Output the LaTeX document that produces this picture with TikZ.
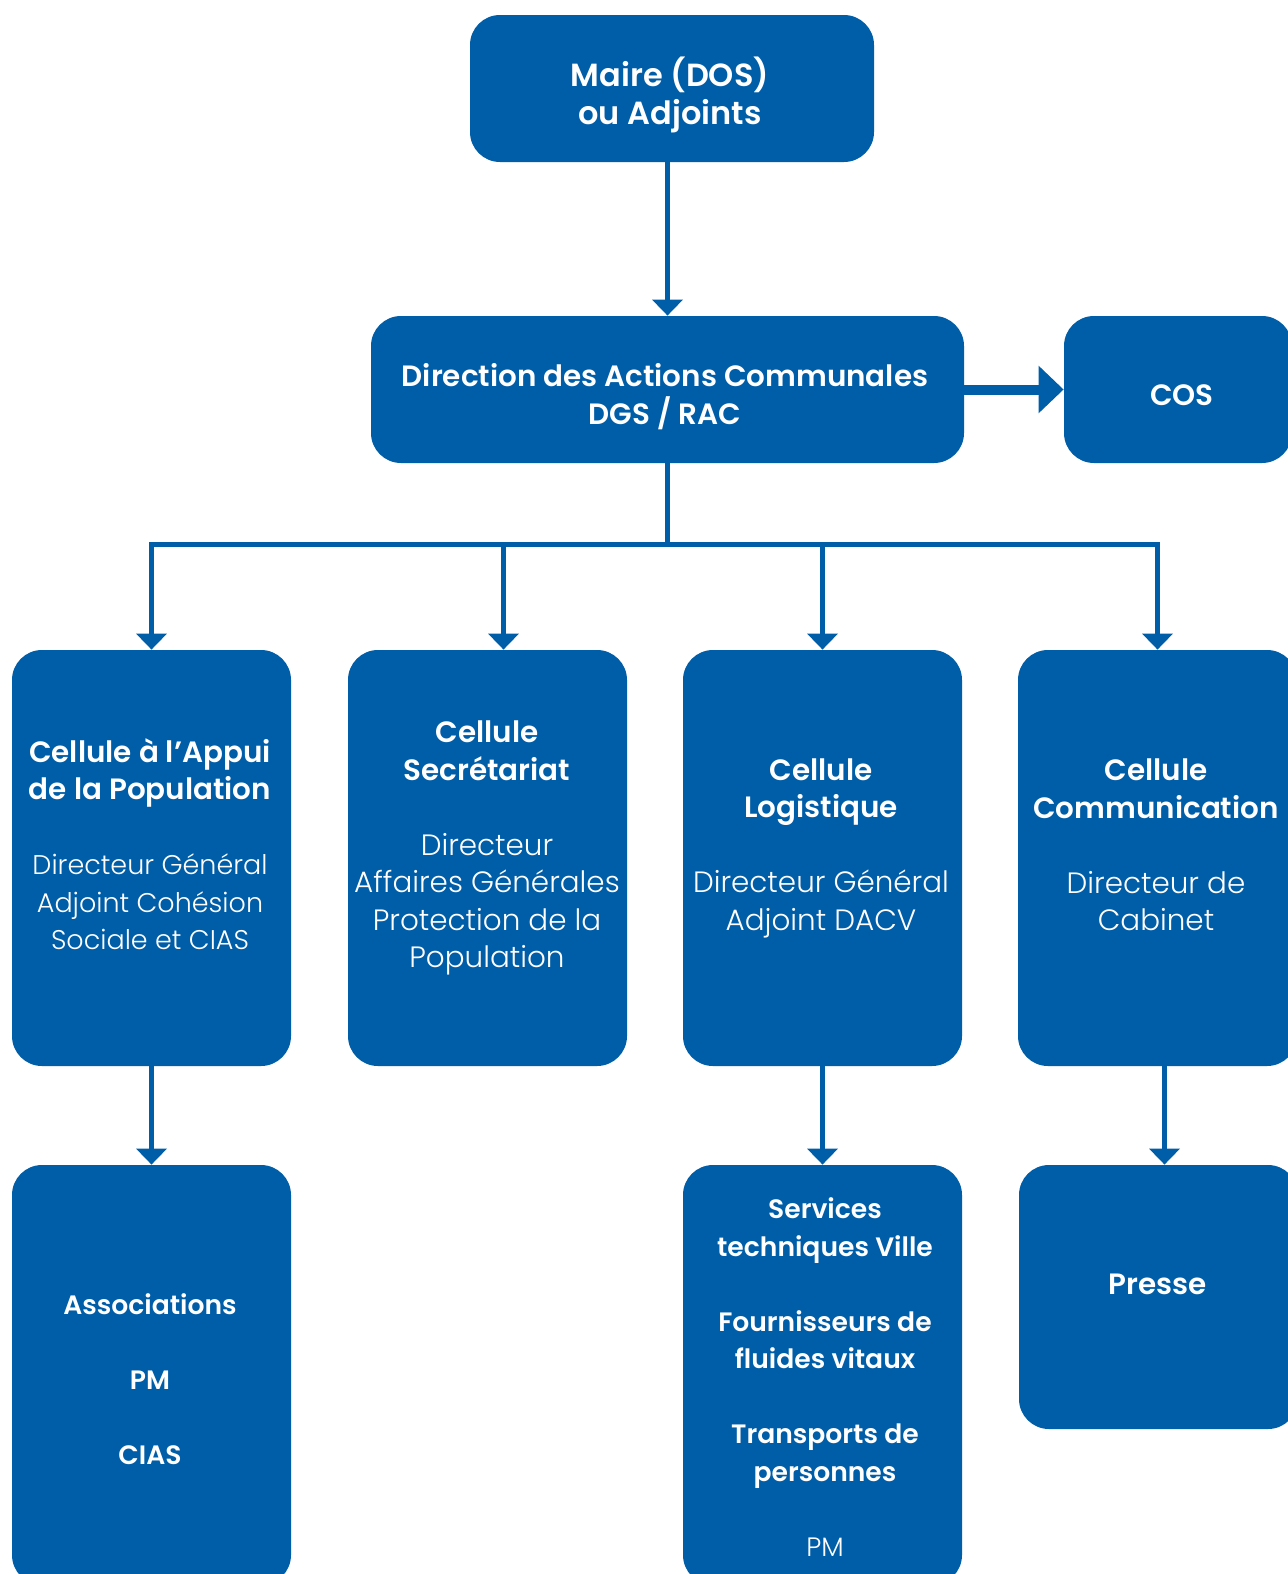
\documentclass[tikz,border=0pt]{standalone}
\usepackage{fontspec}
\setmainfont{Poppins}[UprightFont={* Light}, BoldFont={* SemiBold}]
\usetikzlibrary{arrows.meta, fit}

\definecolor{bleuville}{RGB}{0,94,168}

\tikzset{
    boite/.style={fill=bleuville, draw=none, rounded corners=15pt, inner sep=0pt},
    texte/.style={text=white, align=center, inner sep=0pt, font=\fontsize{14.7}{18.75}\selectfont},
    gras/.style={texte, font=\fontsize{14.7}{18.75}\selectfont\bfseries},
    petit/.style={texte, font=\fontsize{13.3}{18.75}\selectfont\bfseries},
    trait/.style={draw=bleuville, line width=2.5pt},
    fleche/.style={trait, -{Triangle[width=15pt, length=8pt]}},
    grossefleche/.style={draw=bleuville, line width=5pt, -{Triangle[width=23pt, length=12.5pt]}}
}

% corps plus petit pour la premiere cellule
\newcommand{\corpsappui}{\fontsize{13.5}{18.75}\selectfont}

\begin{document}
\begin{tikzpicture}[x=0.5pt, y=-0.5pt]

    \useasboundingbox (0, 0) rectangle (1288, 1574);

    % -- Niveau 1 : Maire --
    \node[boite, fit={(470, 15) (874, 162)}] (maire) {};
    \node[gras, font=\fontsize{16}{18.75}\selectfont\bfseries] (tmaire) at (670, 95) {Maire (DOS)\\ou Adjoints};

    % -- Niveau 2 : Direction et COS --
    \node[boite, fit={(371, 316) (964, 463)}] (direction) {};
    \node[gras] (tdirection) at (665, 396.5) {Direction des Actions Communales\\DGS / RAC};

    \node[boite, fit={(1064, 316) (1292, 463)}] (cos) {};
    \node[gras] (tcos) at (1182, 395) {COS};

    % -- Niveau 3 : les quatre cellules --
    \node[boite, fit={(12, 650) (291, 1066)}] (appui) {};
    \node[boite, fit={(348, 650) (627, 1066)}] (secretariat) {};
    \node[boite, fit={(683, 650) (962, 1066)}] (logistique) {};
    \node[boite, fit={(1018, 650) (1297, 1066)}] (communication) {};

    % titre en gras, puis le responsable
    \node[texte] (tappui) at (150, 844) {\textbf{Cellule à l’Appui}\\\textbf{de la Population}\\[18.75pt]
        \corpsappui Directeur Général\\\corpsappui Adjoint Cohésion\\\corpsappui Sociale et CIAS};
    \node[texte] (tsecretariat) at (487, 848) {\textbf{Cellule}\\\textbf{Secrétariat}\\[18.75pt]
        Directeur\\Affaires Générales\\Protection de la\\Population};
    \node[texte] (tlogistique) at (821, 848) {\textbf{Cellule}\\\textbf{Logistique}\\[18.75pt]
        Directeur Général\\Adjoint DACV};
    \node[texte] (tcommunication) at (1156, 845) {\textbf{Cellule}\\\textbf{Communication}\\[18.75pt]
        Directeur de\\Cabinet};

    % -- Niveau 4 : partenaires --
    \node[boite, fit={(12, 1165) (291, 1585)}] (partenaires) {};
    \node[boite, fit={(683, 1165) (962, 1585)}] (services) {};
    \node[boite, fit={(1019, 1165) (1298, 1429)}] (presse) {};

    \node[petit] (tpartenaires) at (150, 1379) {Associations\\[18.75pt]PM\\[18.75pt]CIAS};
    \node[petit] (tservices) at (825, 1377) {Services\\techniques Ville\\[18.75pt]
        Fournisseurs de\\fluides vitaux\\[18.75pt]Transports de\\personnes\\[18.75pt]\mdseries PM};
    \node[gras] (tpresse) at (1158, 1284) {Presse};

    % -- Liaisons --
    \draw[fleche] (maire.south -| direction.north) -- (direction.north);
    \draw[grossefleche] (direction.east) -- (cos.west);

    % bus horizontal vers les cellules
    \coordinate (bus) at (direction.south |- 0, 544);
    \draw[trait] (direction.south) -- (bus);
    \draw[trait, line cap=rect] (appui.north |- bus) -- (communication.north |- bus);

    \draw[fleche] (appui.north |- bus) -- (appui.north);
    \draw[fleche] ([xshift=8pt]secretariat.north |- bus) -- ([xshift=8pt]secretariat.north);
    \draw[fleche] (logistique.north |- bus) -- (logistique.north);
    \draw[fleche] (communication.north |- bus) -- (communication.north);

    % vers le niveau 4
    \draw[fleche] (appui.south) -- (partenaires.north);
    \draw[fleche] (logistique.south) -- (services.north);
    \draw[fleche] ([xshift=3.5pt]communication.south) -- ([xshift=3.5pt]communication.south |- presse.north);

\end{tikzpicture}
\end{document}
